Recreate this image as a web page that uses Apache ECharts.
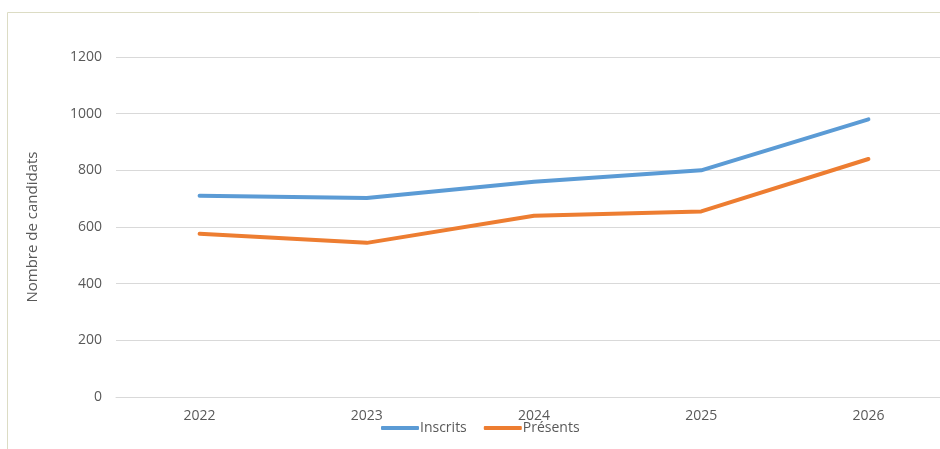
<!DOCTYPE html>
<html>
<head>
<meta charset="utf-8">
<script src="https://cdn.jsdelivr.net/npm/echarts@6/dist/echarts.min.js"></script>
<style>
  html, body { margin: 0; padding: 0; background: #fff; overflow: hidden; }
  /* le graphique d'origine est rogné à droite : la zone de tracé dépasse la fenêtre */
  #chart { width: 952px; height: 449px; }
</style>
</head>
<body>
<div id="chart"></div>
<script>
// données
const years = ["2022", "2023", "2024", "2025", "2026"];
const inscrits = [710, 702, 760, 800, 980];
const presents = [576, 544, 640, 655, 840];
const yTicks = [0, 200, 400, 600, 800, 1000, 1200];

const FONT = "'Open Sans', 'Noto Sans', sans-serif";
const TEXT = "#595959";

const chart = echarts.init(document.getElementById("chart"));

const options = {
  backgroundColor: "#fff",
  animation: false,
  // cadre du graphique (bord gauche et haut)
  graphic: [
    { type: "line", shape: { x1: 7.5, y1: 12.5, x2: 7.5, y2: 449 }, style: { stroke: "#dcdcc4", lineWidth: 1 } },
    { type: "line", shape: { x1: 7.5, y1: 12.5, x2: 952, y2: 12.5 }, style: { stroke: "#dcdcc4", lineWidth: 1 } }
  ],
  legend: {
    data: ["Inscrits", "Présents"],
    left: 381,
    top: 421,
    icon: "roundRect",
    itemWidth: 38,
    itemHeight: 4,
    itemGap: 17,
    padding: 0,
    textStyle: { fontFamily: FONT, fontSize: 14, color: TEXT, padding: [0, 0, 0, -4] }
  },
  grid: {
    left: 116,
    right: 0,
    top: 57,
    bottom: 52,
    containLabel: false
  },
  xAxis: {
    type: "category",
    data: years,
    boundaryGap: true,
    axisLine: { lineStyle: { color: "#d9d9d9" } },
    axisTick: { show: false },
    axisLabel: { fontFamily: FONT, fontSize: 14, color: TEXT, margin: 12 }
  },
  yAxis: {
    type: "value",
    min: yTicks[0],
    max: yTicks[yTicks.length - 1],
    interval: 200,
    name: "Nombre de candidats",
    nameLocation: "middle",
    nameGap: 76,
    nameRotate: 90,
    nameTextStyle: { fontFamily: FONT, fontSize: 15, color: TEXT },
    axisLine: { show: false },
    axisTick: { show: false },
    axisLabel: {
      fontFamily: FONT, fontSize: 14, color: TEXT, margin: 14,
      formatter: (v) => String(v)
    },
    splitLine: { lineStyle: { color: "#d9d9d9", width: 1 } }
  },
  series: [
    {
      name: "Inscrits",
      type: "line",
      data: inscrits,
      symbol: "none",
      color: "#5b9bd5",
      lineStyle: { color: "#5b9bd5", width: 4, cap: "round", join: "round" }
    },
    {
      name: "Présents",
      type: "line",
      data: presents,
      symbol: "none",
      color: "#ed7d31",
      lineStyle: { color: "#ed7d31", width: 4, cap: "round", join: "round" }
    }
  ]
};

chart.setOption(options);
</script>
</body>
</html>
